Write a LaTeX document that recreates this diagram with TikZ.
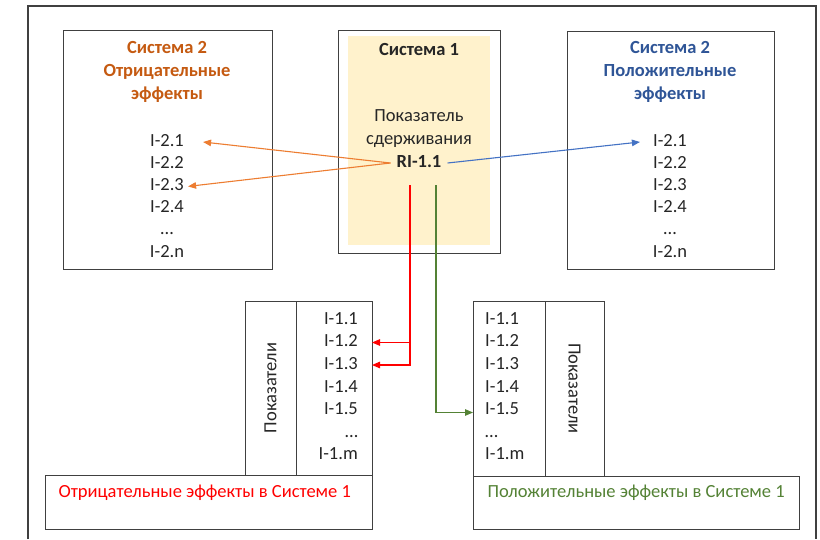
\documentclass[tikz,border=0pt]{standalone}
\usepackage{fontspec}
\setmainfont{Carlito}
\usetikzlibrary{arrows.meta,calc}
\definecolor{framegray}{HTML}{404040}
\definecolor{negtext}{HTML}{C55A11}
\definecolor{negarrow}{HTML}{ED7D31}
\definecolor{postext}{HTML}{2F5597}
\definecolor{posarrow}{HTML}{4472C4}
\definecolor{posgreen}{HTML}{548235}
\definecolor{sysfill}{HTML}{FFF2CC}
\definecolor{txt}{HTML}{262626}
\tikzset{
  panel/.style={draw=framegray, line width=0.9pt, inner sep=0pt, outer sep=0pt},
  item/.style={inner sep=1pt, text height=11pt, text depth=3pt, text=txt},
  title/.style={align=center, font=\bfseries\fontsize{18.5}{23}\selectfont},
  link/.style={line width=1.1pt, -{Triangle[length=8pt,width=6.5pt]}}
}
\begin{document}
\begin{tikzpicture}[x=1pt,y=-1pt,font=\fontsize{18.5}{23}\selectfont]
\useasboundingbox (0,0) rectangle (820,539);
\fill[white] (0,0) rectangle (820,539);
% outer frame, open at the bottom
\draw[framegray, line width=1.3pt] (28,539) -- (28,6) -- (816,6) -- (816,539);

% upper panels
\node[panel, minimum width=209pt, minimum height=239pt] (neg) at (167.5,149.5) {};
\node[panel, minimum width=162pt, minimum height=223pt] (sys) at (419,141.5) {};
\node[fill=sysfill, inner sep=0pt, minimum width=142pt, minimum height=209pt] (sysin) at (419,140.5) {};
\node[panel, minimum width=207pt, minimum height=238pt] (pos) at (670.5,150) {};

% lower left block
\node[panel, minimum width=51pt, minimum height=174pt] (lrot) at (270.5,388) {};
\node[panel, minimum width=76pt, minimum height=174pt] (lcol) at (334,388) {};
\node[panel, minimum width=327pt, minimum height=54pt] (lbot) at (208.5,502) {};
% lower right block
\node[panel, minimum width=72pt, minimum height=175pt] (rcol) at (509,388.5) {};
\node[panel, minimum width=59pt, minimum height=175pt] (rrot) at (574.5,388.5) {};
\node[panel, minimum width=326pt, minimum height=53pt] (rbot) at (636,502.5) {};

% titles
\node[title, text=negtext] (negtitle) at (167,72) {Система 2\\Отрицательные\\эффекты};
\node[title, text=postext] (postitle) at (670,72) {Система 2\\Положительные\\эффекты};
\node[title, text=txt] (systitle) at (419,49) {Система 1};
\node[align=center, text=txt] (systext) at (419,128.5) {Показатель\\сдерживания};
\node[item, font=\bfseries\fontsize{18.5}{23}\selectfont, inner sep=6pt] (ri) at (419,163) {RI-1.1};

% System 2 indicator lists
\foreach \t/\y [count=\i] in {I-2.1/142,I-2.2/164.2,I-2.3/186.4,I-2.4/208.6,…/230.8,I-2.n/253}{
  \node[item] (a\i) at (167,\y) {\t};
  \node[item] (b\i) at (670,\y) {\t};
}
% System 1 indicator lists
\foreach \t/\y [count=\i] in {I-1.1/320,I-1.2/342.5,I-1.3/365,I-1.4/388,I-1.5/410.5,…/433,I-1.m/455}{
  \node[item, anchor=east] (l\i) at (359,\y) {\t};
  \node[item, anchor=west] (r\i) at (484,\y) {\t};
}
\node[rotate=90, text=txt] (lrotlabel) at (lrot.center) {Показатели};
\node[rotate=-90, text=txt] (rrotlabel) at (rrot.center) {Показатели};

\node[anchor=west, text=red] (negcap) at (55,493) {Отрицательные эффекты в Системе 1};
\node[anchor=west, text=posgreen] (poscap) at (484,493) {Положительные эффекты в Системе 1};

% connectors
\draw[link, negarrow] (ri.west) -- ([xshift=18pt]a1.east);
\draw[link, negarrow] (ri.west) -- ([xshift=3pt]a3.east);
\draw[link, posarrow] (ri.east) -- ([xshift=-12pt]b1.west);
\coordinate (rstart) at (410,185);
\coordinate (gstart) at (436,185);
\draw[link, red] (rstart) |- (l2.east -| lcol.east);
\draw[link, red] (rstart) |- (l3.east -| lcol.east);
\draw[link, posgreen] (gstart) |- ([yshift=-2pt]r5.west -| rcol.west);
\end{tikzpicture}
\end{document}
